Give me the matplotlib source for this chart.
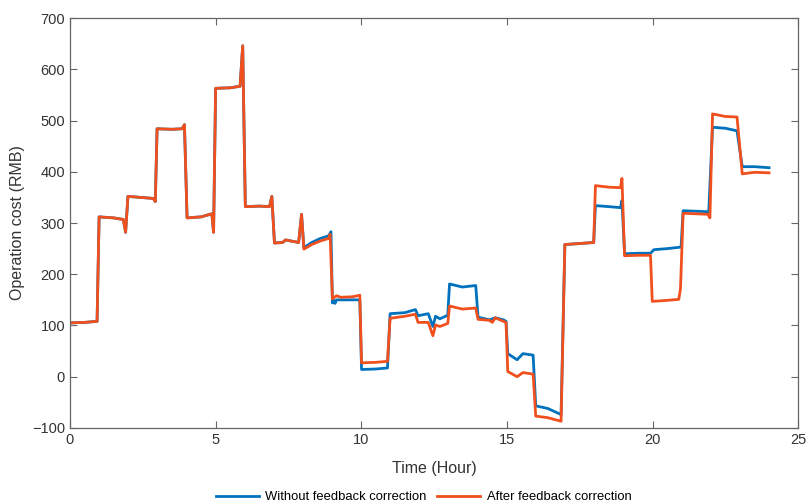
import matplotlib.pyplot as plt

plt.rcParams['font.family'] = ['Liberation Sans', 'DejaVu Sans']

# Shared part (both curves overlap until about 8 h)
t_common = [0.0, 0.5, 0.93, 1.0, 1.5, 1.83, 1.91, 1.99, 2.86, 2.93, 2.99,
            3.5, 3.85, 3.93, 4.02, 4.5, 4.87, 4.93, 5.0, 5.5, 5.84, 5.93,
            6.02, 6.5, 6.85, 6.93, 7.02, 7.3, 7.4, 7.85, 7.95]
cost_common = [105, 106, 108, 312, 310, 307, 282, 352, 348, 342, 484,
               483, 484, 492, 310, 312, 318, 282, 563, 564, 567, 646,
               332, 333, 332, 352, 261, 262, 267, 262, 317]

# Without feedback correction (blue), from 8 h on
t_blue = [8.03, 8.3, 8.6, 8.88, 8.96, 9.01, 9.05, 9.1, 9.15, 9.3, 9.95, 10.01,
          10.5, 10.9, 10.99, 11.5, 11.86, 11.95, 12.3, 12.46, 12.55, 12.7,
          12.97, 13.03, 13.47, 13.93, 14.01, 14.4, 14.6, 14.88, 14.97, 15.03,
          15.35, 15.55, 15.9, 15.99, 16.4, 16.86, 16.99, 17.5, 17.98, 18.04,
          18.5, 18.9, 18.95, 19.04, 19.5, 19.93, 20.05, 20.5, 20.98, 21.05,
          21.5, 21.93, 22.06, 22.5, 22.9, 23.08, 23.5, 24.0]
blue = [252, 262, 270, 275, 283, 144, 150, 143, 150, 150, 150, 14,
        15, 17, 123, 125, 131, 119, 123, 98, 118, 113,
        120, 181, 175, 178, 116, 111, 115, 111, 108, 45,
        33, 45, 42, -57, -62, -74, 258, 260, 262, 334,
        332, 330, 344, 240, 241, 241, 248, 250, 253, 324,
        323, 322, 487, 485, 480, 410, 410, 408]

# After feedback correction (orange), from 8 h on
t_orange = [8.03, 8.3, 8.6, 8.88, 8.93, 9.01, 9.15, 9.3, 9.7, 9.95, 10.01,
            10.5, 10.9, 10.99, 11.5, 11.86, 11.95, 12.3, 12.46, 12.55, 12.7,
            12.97, 13.03, 13.47, 13.93, 14.01, 14.4, 14.5, 14.6, 14.88, 14.97,
            15.03, 15.35, 15.55, 15.9, 15.99, 16.4, 16.86, 16.99, 17.5, 17.98,
            18.04, 18.5, 18.9, 18.95, 19.04, 19.5, 19.93, 19.99, 20.5, 20.9,
            20.96, 21.05, 21.5, 21.9, 21.97, 22.06, 22.5, 22.9, 23.08, 23.5,
            24.0]
orange = [249, 258, 265, 270, 278, 152, 158, 155, 156, 159, 27,
          28, 30, 114, 118, 122, 106, 106, 80, 101, 98,
          104, 138, 132, 134, 112, 110, 106, 115, 108, 106,
          10, 0, 8, 5, -77, -80, -87, 258, 260, 262,
          373, 370, 369, 387, 236, 237, 237, 147, 149, 151,
          172, 319, 318, 317, 310, 513, 508, 507, 396, 399,
          398]

t_without = t_common + t_blue
cost_without = cost_common + blue
t_after = t_common + t_orange
cost_after = cost_common + orange

x_ticks = [0, 5, 10, 15, 20, 25]
y_ticks = [-100, 0, 100, 200, 300, 400, 500, 600, 700]

fig = plt.figure(figsize=(8.1, 5.04), dpi=100)
ax = fig.add_axes([0.0864, 0.151, 0.899, 0.813])

ax.plot(t_without, cost_without, color='#0072BD', lw=2.0,
        label='Without feedback correction')
ax.plot(t_after, cost_after, color='#F0501E', lw=2.0,
        label='After feedback correction')

ax.set_xlim(0, 25)
ax.set_ylim(-100, 700)
ax.set_xticks(x_ticks)
ax.set_yticks(y_ticks)
ax.tick_params(direction='in', length=5, width=0.8, top=True, right=True,
               labelsize=10.5, colors='#666666', labelcolor='#333333')
for s in ax.spines.values():
    s.set_color('#666666')
    s.set_linewidth(0.9)

ax.set_xlabel('Time (Hour)', fontsize=11.5, color='#333333', labelpad=10)
ax.set_ylabel('Operation cost (RMB)', fontsize=11.5, color='#333333', labelpad=5)

fig.legend(loc='lower center', ncol=2, frameon=False, fontsize=9.4,
           bbox_to_anchor=(0.523, -0.022), handlelength=3.3, columnspacing=0.8,
           handletextpad=0.5)

fig.savefig('out.png', dpi=100)
